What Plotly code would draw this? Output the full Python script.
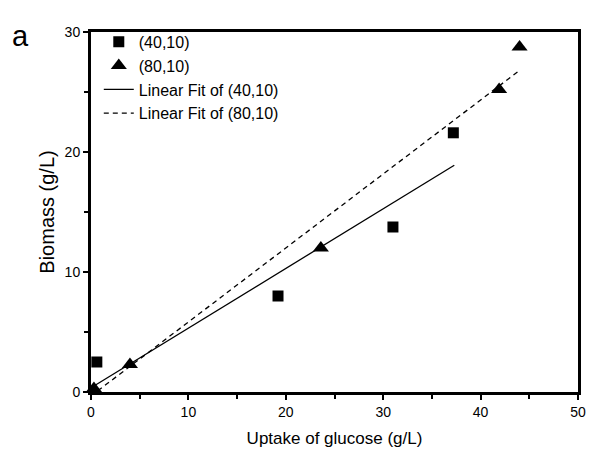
import plotly.graph_objects as go

# Data
x_40 = [0.6, 19.2, 31.0, 37.2]
y_40 = [2.5, 8.0, 13.75, 21.6]
x_80 = [0.3, 4.0, 23.6, 41.9, 44.0]
y_80 = [0.3, 2.3, 12.0, 25.2, 28.75]

# Linear fit line endpoints
fit40_x = [0.3, 37.3]
fit40_y = [0.5, 18.9]
fit80_x = [0.7, 44.0]
fit80_y = [0.1, 26.8]

x_ticks = [0, 10, 20, 30, 40, 50]
y_ticks = [0, 10, 20, 30]

FONT = "Liberation Sans, Arial, sans-serif"

fig = go.Figure()
fig.add_trace(go.Scatter(x=x_40, y=y_40, mode="markers", name="(40,10)",
                         marker=dict(symbol="square", size=11, color="black"),
                         cliponaxis=False))
fig.add_trace(go.Scatter(x=x_80, y=y_80, mode="markers", name="(80,10)",
                         marker=dict(symbol="triangle-up", size=14, color="black"),
                         cliponaxis=False))
fig.add_trace(go.Scatter(x=fit40_x, y=fit40_y, mode="lines", name="Linear Fit of (40,10)",
                         line=dict(color="black", width=1.3)))
fig.add_trace(go.Scatter(x=fit80_x, y=fit80_y, mode="lines", name="Linear Fit of (80,10)",
                         line=dict(color="black", width=1.3, dash="5px,4px")))

axis_common = dict(showline=True, linecolor="black", linewidth=3, mirror=True,
                   ticks="outside", ticklen=5, tickwidth=2, tickcolor="black",
                   showgrid=False, zeroline=False, automargin=False,
                   tickfont=dict(family=FONT, size=14, color="black"),
                   minor=dict(ticks="outside", ticklen=4, tickwidth=2, tickcolor="black", dtick=5))

fig.update_xaxes(range=[0, 50], tickvals=x_ticks, **axis_common,
                 title=dict(text="Uptake of glucose (g/L)", font=dict(family=FONT, size=17, color="black"),
                            standoff=14))
fig.update_yaxes(range=[0, 30], tickvals=y_ticks, **axis_common,
                 title=dict(text="Biomass (g/L)", font=dict(family=FONT, size=20, color="black"),
                            standoff=5))

fig.add_annotation(text="a", xref="paper", yref="paper", x=-0.166, y=1.038,
                   xanchor="left", yanchor="top", showarrow=False,
                   font=dict(family=FONT, size=29, color="black"))

fig.update_layout(
    width=612, height=453,
    margin=dict(l=91, r=34, t=32, b=61),
    plot_bgcolor="white", paper_bgcolor="white",
    font=dict(family=FONT, color="black"),
    legend=dict(x=0.016, y=1.02, xanchor="left", yanchor="top",
                bgcolor="rgba(0,0,0,0)", borderwidth=0,
                font=dict(family=FONT, size=16, color="black"),
                tracegroupgap=0, itemwidth=30),
    showlegend=True,
)

fig.write_html("out.html", config={"displayModeBar": False},
               post_script="document.body.style.margin='0';")
